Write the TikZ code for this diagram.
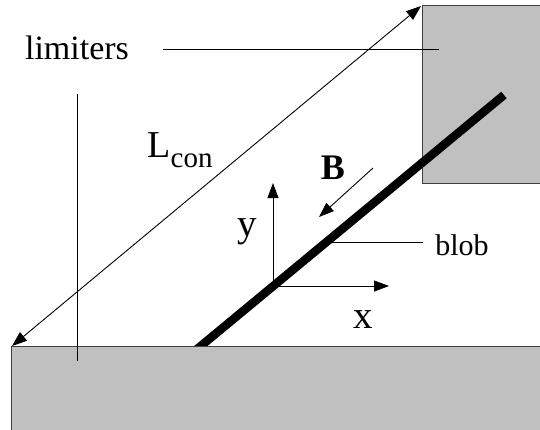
\documentclass[tikz,border=0pt]{standalone}
\usepackage{fontspec}
\setmainfont{Liberation Serif}
\usetikzlibrary{arrows.meta}
\definecolor{limitergray}{HTML}{C0C0C0}
\definecolor{edgegray}{HTML}{404040}
\tikzset{
  limfill/.style={fill=limitergray},
  limedge/.style={draw=edgegray, line width=1pt},
  leader/.style={line width=0.9pt},
  vec/.style={-{Triangle[length=15pt,width=11pt]}, line width=0.9pt},
  lbl/.style={inner sep=0pt, font=\fontsize{34}{34}\selectfont},
}

\begin{document}
\begin{tikzpicture}[x=1pt, y=-1pt]
  \useasboundingbox (0,0) rectangle (540,429);
  % limiters and blob
  \fill[limfill] (422,5) rectangle (548,183);
  \draw[limedge] (548,5) -- (422,5) -- (422,183) -- (548,183);
  \draw[line width=8.5pt] (196,350) -- (504,95);
  \fill[limfill] (11,346) rectangle (548,436);
  \draw[limedge] (548,346) -- (11,346) -- (11,436);
  % labels
  \node[lbl] (limiters) at (77,48) {limiters};
  \node[lbl] (lcon) at (180,150) {\fontsize{38}{38}\selectfont L\raisebox{-0.25em}{\fontsize{29}{29}\selectfont con}};
  \node[lbl, font=\fontsize{36}{36}\selectfont\bfseries] (bfield) at (333,168) {B};
  \node[lbl, font=\fontsize{39}{39}\selectfont] (ylab) at (247,232) {y};
  \node[lbl, font=\fontsize{39}{39}\selectfont] (xlab) at (363,320) {x};
  \node[lbl, font=\fontsize{30}{30}\selectfont] (blob) at (462,245) {blob};
  % leaders
  \coordinate (limstart) at (163,49);
  \coordinate (limend) at (439,49);
  \coordinate (vtop) at (77,94);
  \coordinate (vbot) at (77,361);
  \coordinate (blobpt) at (332,242);
  \coordinate (blobend) at (423,242);
  \draw[leader] (limstart) -- (limend);
  \draw[leader] (vtop) -- (vbot);
  \draw[leader] (blobpt) -- (blobend);
  % connection length
  \coordinate (lcbot) at (12,346);
  \coordinate (lctop) at (421,6);
  \draw[vec, {Triangle[length=15pt,width=11pt]}-{Triangle[length=15pt,width=11pt]}] (lcbot) -- (lctop);
  % axes and field
  \coordinate (origin) at (273,286);
  \coordinate (ytip) at (273,183);
  \coordinate (xtip) at (389,286);
  \draw[vec] (origin) -- (ytip);
  \draw[vec] (origin) -- (xtip);
  \coordinate (bstart) at (373,168);
  \coordinate (bend) at (319,217);
  \draw[vec] (bstart) -- (bend);
\end{tikzpicture}
\end{document}
